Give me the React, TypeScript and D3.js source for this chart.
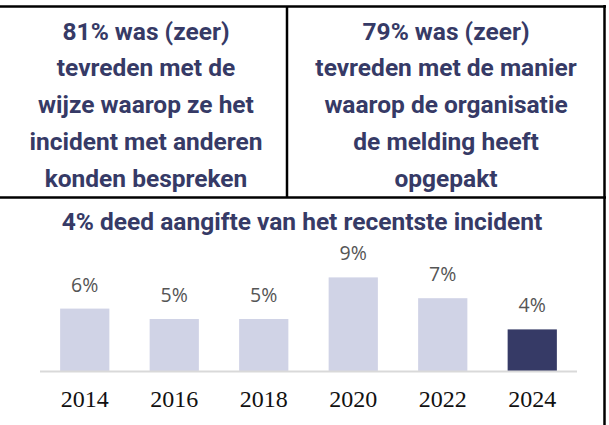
import React, { useEffect, useRef } from 'react'
import * as d3 from 'd3'

const years = ['2014', '2016', '2018', '2020', '2022', '2024']
const values = [6, 5, 5, 9, 7, 4]
const leftLines = ['81% was (zeer)', 'tevreden met de', 'wijze waarop ze het', 'incident met anderen', 'konden bespreken']
const rightLines = ['79% was (zeer)', 'tevreden met de manier', 'waarop de organisatie', 'de melding heeft', 'opgepakt']
const title = '4% deed aangifte van het recentste incident'

const navy = '#363a66'
const lightBar = '#d0d3e6'

export default function App() {
    const ref = useRef<SVGSVGElement | null>(null)

    useEffect(() => {
        const svg = d3.select(ref.current)
        svg.selectAll('*').remove()

        // frame lines
        const frame = svg.append('g').attr('stroke', '#000').attr('stroke-width', 2.5)
        frame.append('line').attr('x1', 0).attr('x2', 606).attr('y1', 6.5).attr('y2', 6.5)
        frame.append('line').attr('x1', 604.5).attr('x2', 604.5).attr('y1', 5).attr('y2', 425)
        frame.append('line').attr('x1', 287).attr('x2', 287).attr('y1', 6).attr('y2', 198)
        frame.append('line').attr('x1', 0).attr('x2', 606).attr('y1', 197.5).attr('y2', 197.5)

        const drawCell = (lines: string[], cx: number) => {
            svg.append('g')
                .selectAll('text')
                .data(lines)
                .enter().append('text')
                .attr('x', cx)
                .attr('y', (d, i) => 39.5 + i * 36.8)
                .attr('text-anchor', 'middle')
                .attr('font-family', 'Roboto, sans-serif')
                .attr('font-weight', 700)
                .attr('font-size', 24.5)
                .attr('fill', navy)
                .text(d => d)
        }
        drawCell(leftLines, 146)
        drawCell(rightLines, 446)

        svg.append('text')
            .attr('x', 302)
            .attr('y', 230)
            .attr('text-anchor', 'middle')
            .attr('font-family', 'Roboto, sans-serif')
            .attr('font-weight', 700)
            .attr('font-size', 24.5)
            .attr('fill', navy)
            .text(title)

        const x = d3.scaleBand<string>()
            .domain(years)
            .range([40, 577])
            .paddingInner(0.45)
            .paddingOuter(0.225)

        const y = d3.scaleLinear()
            .domain([0, 10])
            .range([371, 267])

        svg.append('g')
            .selectAll('rect')
            .data(values)
            .enter().append('rect')
            .attr('x', (d, i) => x(years[i]) as number)
            .attr('width', x.bandwidth())
            .attr('y', d => y(d))
            .attr('height', d => y(0) - y(d))
            .attr('fill', (d, i) => i === values.length - 1 ? navy : lightBar)

        svg.append('line')
            .attr('x1', 40).attr('x2', 577)
            .attr('y1', y(0) + 0.5).attr('y2', y(0) + 0.5)
            .attr('stroke', '#d9d9d9')
            .attr('stroke-width', 2)

        svg.append('g')
            .selectAll('text')
            .data(values)
            .enter().append('text')
            .attr('x', (d, i) => (x(years[i]) as number) + x.bandwidth() / 2)
            .attr('y', d => y(d) - 17)
            .attr('text-anchor', 'middle')
            .attr('font-family', '"Open Sans", sans-serif')
            .attr('font-size', 19.5)
            .attr('fill', '#555')
            .text(d => d + '%')

        svg.append('g')
            .selectAll('text')
            .data(years)
            .enter().append('text')
            .attr('x', d => (x(d) as number) + x.bandwidth() / 2)
            .attr('y', 407)
            .attr('text-anchor', 'middle')
            .attr('font-family', '"Liberation Serif", serif')
            .attr('font-size', 24)
            .attr('fill', '#111')
            .text(d => d)
    }, [])

    return (
        <div style={{ position: 'absolute', left: 0, top: 0 }}>
            <svg ref={ref} width={609} height={425} style={{ display: 'block', background: '#fff' }}></svg>
        </div>
    )
}
